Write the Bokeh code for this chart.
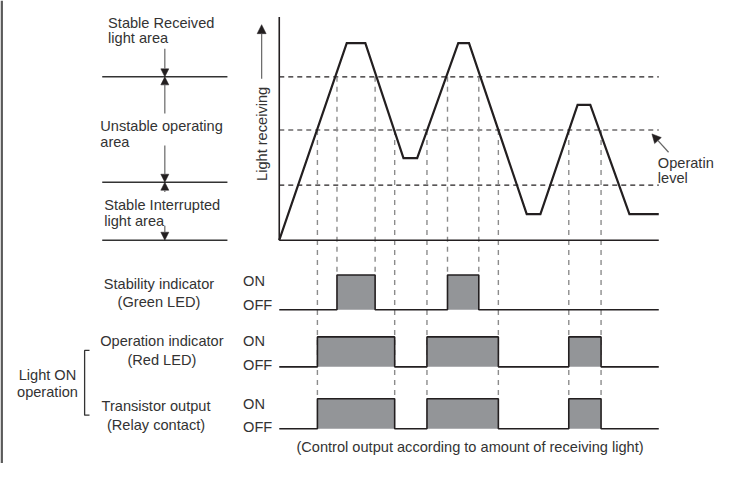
import numpy as np
from bokeh.plotting import figure
from bokeh.models import Range1d, Arrow, NormalHead
from bokeh.core.properties import value
from bokeh.embed import file_html
from bokeh.resources import INLINE

# ---------------- data ----------------
# received light (arbitrary units) versus time (arbitrary units)
time = [0, 69, 88, 127, 141, 183, 194, 253, 267, 305, 318, 358, 388]
light = [0, 204, 204, 85, 85, 204, 204, 27, 27, 140, 140, 27, 27]
t_end = 388
threshold_levels = [169, 114, 57]      # stable received / operating / stable interrupted
zone_levels = [169, 60, 0]             # boundaries of the areas on the left
operating_level = 114
stable_level = 169

# ON intervals (start, end) of the output signals
stability_on = [(59, 98), (172, 204)]
operation_on = [(39, 118), (151, 224), (296, 329)]
transistor_on = [(39, 118), (151, 224), (296, 329)]

zone_labels = [["Stable Received", "light area"],
               ["Unstable operating", "area"],
               ["Stable Interrupted", "light area"]]
row_labels = [["Stability indicator", "(Green LED)"],
              ["Operation indicator", "(Red LED)"],
              ["Transistor output", "(Relay contact)"]]
state_labels = ["ON", "OFF"]
group_label = ["Light ON", "operation"]
caption = "(Control output according to amount of receiving light)"
axis_label = "Light receiving"
level_label = ["Operatin", "level"]

# ---------------- layout constants ----------------
X0 = 285          # time origin
YL = 248          # light zero
rows = [dict(off=320, on=284), dict(off=379, on=348), dict(off=443, on=412)]
FONT = value("Liberation Sans")
FS = "14.6px"
TXT = "#333333"
INK = "#231f20"
FILL = "#939598"
DASHC = "#8c8c8c"

p = figure(width=715, height=463, x_range=Range1d(0, 731), y_range=Range1d(479, 0),
           output_backend="svg", toolbar_location=None, min_border=0,
           x_axis_type=None, y_axis_type=None)
p.grid.visible = False
p.outline_line_color = None
p.background_fill_color = "white"

# left border strip
p.quad(left=[0], right=[2.5], top=[0], bottom=[479], fill_color="#5a5a5a", line_color=None)

fx = lambda t: X0 + t
fy = lambda L: YL - L

# threshold dashed lines
for lv in threshold_levels:
    p.line([fx(0), fx(t_end)], [fy(lv), fy(lv)], line_color=INK, line_width=1.1, line_dash="5 4")

# vertical dashed guide lines
for a, b in stability_on:
    for t in (a, b):
        p.line([fx(t), fx(t)], [fy(stable_level), rows[0]["on"]], line_color=DASHC,
               line_width=1.4, line_dash="5 5")
for a, b in operation_on:
    for t in (a, b):
        p.line([fx(t), fx(t)], [fy(operating_level), rows[2]["on"]], line_color=DASHC,
               line_width=1.4, line_dash="5 5")

# axes of the light chart
p.line([fx(0), fx(0)], [17, fy(0)], line_color=INK, line_width=1.6)
p.line([fx(0), fx(t_end)], [fy(0), fy(0)], line_color=INK, line_width=1.6)

# light curve
p.line([fx(t) for t in time], [fy(L) for L in light], line_color=INK, line_width=2.2,
       line_join="miter")

# signal rows
for row, edges in zip(rows, [stability_on, operation_on, transistor_on]):
    off, on = row["off"], row["on"]
    p.quad(left=[fx(a) for a, b in edges], right=[fx(b) for a, b in edges],
           top=[on] * len(edges), bottom=[off] * len(edges), fill_color=FILL, line_color=None)
    xs, ys = [fx(0)], [off]
    for a, b in edges:
        xs += [fx(a), fx(a), fx(b), fx(b)]
        ys += [off, on, on, off]
    xs.append(fx(t_end)); ys.append(off)
    p.line(xs, ys, line_color=INK, line_width=1.6)

# zones on the left
for lv in zone_levels:
    p.line([104, 232], [fy(lv), fy(lv)], line_color="#333333", line_width=1.5)

def arrow(x0, y0, x1, y1, size=8):
    p.add_layout(Arrow(x_start=x0, y_start=y0, x_end=x1, y_end=y1, line_color="#666666",
                       line_width=1.2,
                       end=NormalHead(size=size, fill_color=INK, line_color=INK, line_width=0.5)))

AX = 168
arrow(AX, 50, AX, fy(zone_levels[0]))
arrow(AX, 117, AX, fy(zone_levels[0]))
arrow(AX, 150, AX, fy(zone_levels[1]))
arrow(AX, 198, AX, fy(zone_levels[1]))
arrow(AX, 233, AX, fy(zone_levels[2]))
arrow(267, 81, 267, 25, size=9)
arrow(683, 157, 666, 138, size=9)

def text(x, y, s, align="left", angle=0.0):
    p.text(x=[x], y=[y], text=[s], text_font=FONT, text_font_size=FS, text_color=TXT,
           text_align=align, text_baseline="middle", angle=angle)

text(110, 23, zone_labels[0][0]); text(110, 39, zone_labels[0][1])
text(102, 130, zone_labels[1][0]); text(102, 146, zone_labels[1][1])
text(106, 212, zone_labels[2][0]); text(106, 228, zone_labels[2][1])

text(267, 138, axis_label, align="center", angle=np.pi / 2)
text(672, 168, level_label[0]); text(672, 184, level_label[1])

label_pos = [(162, 293, 312), (165, 352, 372), (159, 420, 439)]
for (cx, y1, y2), (l1, l2) in zip(label_pos, row_labels):
    text(cx, y1, l1, align="center")
    text(cx, y2, l2, align="center")

for y_on, y_off in [(290, 315), (352, 377), (417, 441)]:
    text(248, y_on, state_labels[0])
    text(248, y_off, state_labels[1])

text(48, 387, group_label[0], align="center")
text(48, 405, group_label[1], align="center")

# bracket
p.line([91, 86, 86, 91], [362, 362, 429, 429], line_color="#333333", line_width=1.3)

text(480, 462, caption, align="center")

open("out.html", "w").write(file_html(p, INLINE))
